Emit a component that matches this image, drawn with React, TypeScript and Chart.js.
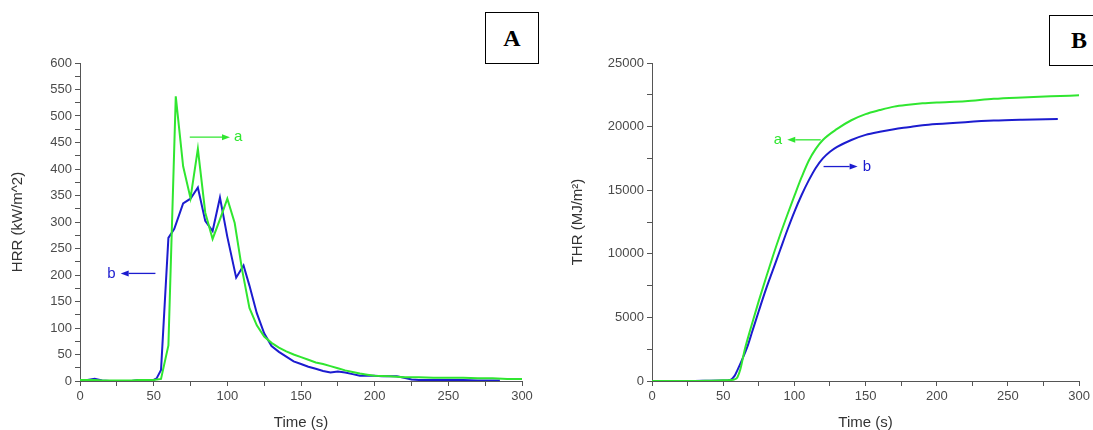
import React, { useEffect, useRef } from 'react';
import { Chart, registerables } from 'chart.js';

Chart.register(...registerables);

// ---------- Data: panel A (HRR) ----------
const hrrTimeA = [0, 5, 10, 15, 20, 25, 30, 35, 40, 45, 50, 55, 60, 65, 70, 75, 80, 85, 90, 95, 100, 105, 110, 115, 120, 125, 130, 135, 140, 145, 150, 155, 160, 165, 170, 175, 180, 185, 190, 195, 200, 210, 220, 230, 240, 250, 260, 270, 280, 290, 300];
const hrrValuesA = [2, 2, 2, 1, 1, 1, 1, 1, 2, 2, 2, 4, 67, 537, 405, 345, 438, 318, 268, 305, 344, 298, 210, 138, 105, 84, 72, 63, 56, 50, 45, 40, 35, 32, 28, 24, 20, 17, 14, 12, 10, 9, 7, 7, 6, 6, 6, 5, 5, 4, 4];

const hrrTimeB = [0, 5, 10, 15, 20, 25, 30, 35, 40, 45, 50, 52, 55, 60, 64, 70, 75, 80, 85, 90, 95, 100, 106, 111, 115, 120, 125, 130, 135, 140, 145, 150, 155, 160, 165, 170, 175, 180, 185, 190, 195, 200, 205, 210, 215, 220, 225, 230, 240, 250, 260, 270, 280, 285];
const hrrValuesB = [2, 2, 4, 1, 0, 0, 0, 0, 2, 2, 2, 5, 21, 270, 287, 335, 344, 365, 302, 283, 346, 272, 195, 218, 180, 128, 90, 66, 55, 46, 37, 32, 27, 23, 19, 16, 18, 16, 13, 10, 10, 10, 9, 9, 9, 6, 3, 2, 2, 2, 2, 1, 1, 1];

// ---------- Data: panel B (THR) ----------
const thrTimeA = [0, 10, 20, 30, 40, 50, 55, 58, 60, 62, 65, 70, 75, 80, 85, 90, 95, 100, 105, 110, 115, 120, 130, 140, 150, 160, 170, 180, 190, 200, 220, 240, 260, 280, 300];
const thrValuesA = [0, 0, 0, 0, 20, 50, 80, 130, 300, 900, 2400, 4400, 6300, 8100, 9850, 11500, 13050, 14550, 16000, 17300, 18250, 18950, 19820, 20500, 20980, 21300, 21570, 21720, 21830, 21900, 22000, 22180, 22290, 22380, 22460];

const thrTimeB = [0, 10, 20, 30, 40, 50, 55, 58, 60, 63, 67, 70, 75, 80, 85, 90, 95, 100, 105, 110, 115, 120, 125, 130, 140, 150, 160, 170, 180, 190, 200, 220, 240, 260, 285];
const thrValuesB = [0, 0, 0, 0, 20, 30, 80, 400, 850, 1600, 2700, 3750, 5500, 7200, 8750, 10300, 11850, 13300, 14600, 15750, 16750, 17500, 18020, 18400, 18950, 19350, 19600, 19800, 19950, 20100, 20200, 20350, 20470, 20540, 20600];

// ---------- Axis settings ----------
const xMin = 0;
const xMax = 300;
const xStep = 25;
const xLabelEvery = 50;
const hrrMax = 600;
const hrrStep = 25;
const hrrLabelEvery = 50;
const thrMax = 25000;
const thrStep = 2500;
const thrLabelEvery = 5000;

// ---------- Annotations (data coordinates) ----------
const hrrNotes = [
  { label: 'a', series: 0, tail: 74.5, tip: 101.8, textX: 107.3, y: 460 },
  { label: 'b', series: 1, tail: 51.2, tip: 27.6, textX: 21.4, y: 203 },
];
const thrNotes = [
  { label: 'a', series: 0, tail: 118.5, tip: 95, textX: 88.4, y: 18960 },
  { label: 'b', series: 1, tail: 120.5, tip: 144.4, textX: 151, y: 16860 },
];

const GREEN = '#30e630';
const BLUE = '#1c1ccf';
const SERIES_COLORS = [GREEN, BLUE];
const FONT = "'Liberation Sans', Arial, sans-serif";
const AXIS_COLOR = '#555555';
const TICK_TEXT = '#4a4a4a';

type Note = { label: string; series: number; tail: number; tip: number; textX: number; y: number };

const notePlugin = {
  id: 'notes',
  afterDatasetsDraw(chart: any, _args: any, opts: any) {
    const notes: Note[] = opts.notes || [];
    const { ctx, scales } = chart;
    const xs = scales.x;
    const ys = scales.y;
    ctx.save();
    notes.forEach((n) => {
      const color = SERIES_COLORS[n.series];
      const yPix = ys.getPixelForValue(n.y);
      const xTail = xs.getPixelForValue(n.tail);
      const xTip = xs.getPixelForValue(n.tip);
      const dir = xTip > xTail ? 1 : -1;
      const headLen = 8;
      ctx.strokeStyle = color;
      ctx.fillStyle = color;
      ctx.lineWidth = 1.3;
      ctx.beginPath();
      ctx.moveTo(xTail, yPix);
      ctx.lineTo(xTip - dir * headLen, yPix);
      ctx.stroke();
      ctx.beginPath();
      ctx.moveTo(xTip, yPix);
      ctx.lineTo(xTip - dir * headLen, yPix - 3);
      ctx.lineTo(xTip - dir * headLen, yPix + 3);
      ctx.closePath();
      ctx.fill();
      ctx.font = `15px ${FONT}`;
      ctx.textAlign = 'center';
      ctx.textBaseline = 'middle';
      ctx.fillText(n.label, xs.getPixelForValue(n.textX), yPix);
    });
    ctx.restore();
  },
};

function toPoints(xs: number[], ys: number[]) {
  return xs.map((x, i) => ({ x, y: ys[i] }));
}

type PanelProps = {
  width: number;
  height: number;
  left: number;
  seriesA: { x: number; y: number }[];
  seriesB: { x: number; y: number }[];
  yMax: number;
  yStep: number;
  yLabelEvery: number;
  yTitle: string;
  yAxisWidth: number;
  yTitlePad: number;
  padRight: number;
  smooth: boolean;
  notes: Note[];
};

function Panel(p: PanelProps) {
  const ref = useRef<HTMLCanvasElement | null>(null);
  useEffect(() => {
    if (!ref.current) return;
    const lineDs = (data: any[], color: string) => ({
      data,
      borderColor: color,
      backgroundColor: color,
      borderWidth: 2,
      pointRadius: 0,
      fill: false,
      tension: p.smooth ? 0.4 : 0,
      cubicInterpolationMode: p.smooth ? ('monotone' as const) : ('default' as const),
    });
    const chart = new Chart(ref.current, {
      type: 'line',
      data: {
        datasets: [lineDs(p.seriesA, GREEN), lineDs(p.seriesB, BLUE)],
      },
      plugins: [notePlugin],
      options: {
        animation: false,
        responsive: false,
        devicePixelRatio: 1,
        layout: { padding: { top: 63, right: p.padRight, bottom: 0, left: 0 } },
        plugins: {
          legend: { display: false },
          tooltip: { enabled: false },
          notes: { notes: p.notes },
        } as any,
        scales: {
          x: {
            type: 'linear',
            min: xMin,
            max: xMax,
            afterFit: (s: any) => {
              s.height = 49;
            },
            border: { display: true, color: AXIS_COLOR, width: 1 },
            grid: { display: true, drawOnChartArea: false, drawTicks: true, tickLength: 5, color: AXIS_COLOR },
            ticks: {
              stepSize: xStep,
              autoSkip: false,
              maxRotation: 0,
              padding: 3,
              color: TICK_TEXT,
              font: { family: FONT, size: 13 },
              callback: (v: any) => (Number(v) % xLabelEvery === 0 ? String(v) : ''),
            },
            title: {
              display: true,
              text: 'Time (s)',
              color: '#333',
              font: { family: FONT, size: 15, lineHeight: 1 },
              padding: { top: 0, bottom: 0 },
            },
          },
          y: {
            type: 'linear',
            min: 0,
            max: p.yMax,
            afterFit: (s: any) => {
              s.width = p.yAxisWidth;
            },
            border: { display: true, color: AXIS_COLOR, width: 1 },
            grid: { display: true, drawOnChartArea: false, drawTicks: true, tickLength: 5, color: AXIS_COLOR },
            ticks: {
              stepSize: p.yStep,
              autoSkip: false,
              padding: 3,
              color: TICK_TEXT,
              font: { family: FONT, size: 13 },
              callback: (v: any) => (Number(v) % p.yLabelEvery === 0 ? String(v) : ''),
            },
            title: {
              display: true,
              text: p.yTitle,
              color: '#333',
              font: { family: FONT, size: 15, lineHeight: 1 },
              padding: { top: p.yTitlePad, bottom: 0 },
            },
          },
        },
      },
    });
    return () => chart.destroy();
  }, []);
  return (
    <div style={{ position: 'absolute', left: p.left, top: 0, width: p.width, height: p.height }}>
      <canvas ref={ref} width={p.width} height={p.height} style={{ width: p.width, height: p.height, display: 'block' }} />
    </div>
  );
}

const boxStyle: React.CSSProperties = {
  position: 'absolute',
  border: '1.5px solid #000',
  boxSizing: 'border-box',
  display: 'flex',
  alignItems: 'center',
  justifyContent: 'center',
  fontFamily: "'Liberation Serif', 'Times New Roman', serif",
  fontWeight: 'bold',
  fontSize: 24,
  color: '#000',
  background: '#fff',
};

export default function App() {
  return (
    <div
      style={{
        position: 'fixed',
        left: 0,
        top: 0,
        width: 1093,
        height: 430,
        overflow: 'hidden',
        background: '#fff',
      }}
    >
      <Panel
        width={546}
        height={430}
        left={0}
        seriesA={toPoints(hrrTimeA, hrrValuesA)}
        seriesB={toPoints(hrrTimeB, hrrValuesB)}
        yMax={hrrMax}
        yStep={hrrStep}
        yLabelEvery={hrrLabelEvery}
        yTitle="HRR (kW/m^2)"
        yAxisWidth={80}
        yTitlePad={10.5}
        padRight={24}
        smooth={false}
        notes={hrrNotes}
      />
      <Panel
        width={547}
        height={430}
        left={546}
        seriesA={toPoints(thrTimeA, thrValuesA)}
        seriesB={toPoints(thrTimeB, thrValuesB)}
        yMax={thrMax}
        yStep={thrStep}
        yLabelEvery={thrLabelEvery}
        yTitle="THR (MJ/m²)"
        yAxisWidth={106}
        yTitlePad={24.5}
        padRight={12}
        smooth={true}
        notes={thrNotes}
      />
      <div style={{ ...boxStyle, left: 485, top: 12, width: 54, height: 52 }}>A</div>
      <div style={{ ...boxStyle, left: 1049, top: 15, width: 60, height: 51 }}>B</div>
    </div>
  );
}
